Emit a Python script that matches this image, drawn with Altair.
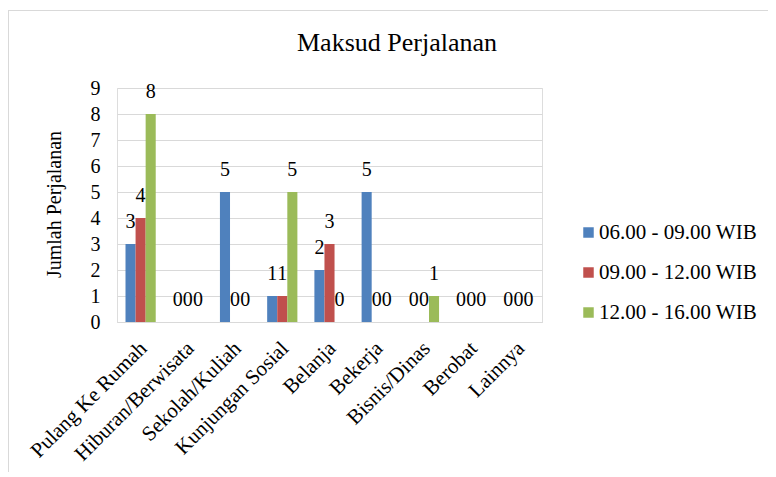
import altair as alt
import pandas as pd

categories = ["Pulang Ke Rumah", "Hiburan/Berwisata", "Sekolah/Kuliah", "Kunjungan Sosial",
              "Belanja", "Bekerja", "Bisnis/Dinas", "Berobat", "Lainnya"]
series = ["06.00 - 09.00 WIB", "09.00 - 12.00 WIB", "12.00 - 16.00 WIB"]
pagi = [3, 0, 5, 1, 2, 5, 0, 0, 0]
siang = [4, 0, 0, 1, 3, 0, 0, 0, 0]
sore = [8, 0, 0, 5, 0, 0, 1, 0, 0]
colors = ["#4F81BD", "#C0504D", "#9BBB59"]
y_ticks = list(range(10))
chart_title = ["Maksud Perjalanan"]

rows = []
for s, vals in zip(series, [pagi, siang, sore]):
    for c, v in zip(categories, vals):
        rows.append({"Maksud": c, "Waktu": s, "Jumlah": v})
df = pd.DataFrame(rows)

FONT = "Liberation Serif"
GRID = "#d9d9d9"

x = alt.X("Maksud:N", sort=categories,
          scale=alt.Scale(paddingInner=0.36, paddingOuter=0.18),
          axis=alt.Axis(title=None, labelAngle=-45, labelAlign="right", labelBaseline="middle",
                        labelFontSize=21, labelFont=FONT, labelColor="#000", labelPadding=23,
                        labelOffset=3,
                        ticks=False, domainColor=GRID, domainWidth=1, grid=False, labelLimit=300))
xo = alt.XOffset("Waktu:N", sort=series, scale=alt.Scale(paddingInner=0, paddingOuter=0))
y = alt.Y("Jumlah:Q", scale=alt.Scale(domain=[0, 9], nice=False),
          axis=alt.Axis(values=y_ticks, title="Jumlah Perjalanan", titleFont=FONT, titleFontSize=20,
                        titleFontWeight="normal", titleColor="#000", titleX=-63, titleY=116,
                        titleAngle=-90, titleBaseline="middle", titleAlign="center",
                        labelFont=FONT, labelFontSize=20, labelColor="#000", labelPadding=17,
                        ticks=False, domain=False, gridColor=GRID, gridWidth=1))
color = alt.Color("Waktu:N", sort=series, scale=alt.Scale(domain=series, range=colors),
                  legend=alt.Legend(title=None, orient="none", legendX=461, legendY=134,
                                    symbolType="square", symbolSize=110, symbolStrokeWidth=0,
                                    labelFont=FONT, labelFontSize=21, labelColor="#000",
                                    rowPadding=18, labelOffset=0, labelLimit=300))

base = alt.Chart(df)
bars = base.mark_bar().encode(x=x, xOffset=xo, y=y, color=color)
labels = base.mark_text(dy=-22, baseline="middle", font=FONT, fontSize=20, color="#000").encode(
    x=x, xOffset=xo, y=y, text="Jumlah:Q")

title_df = pd.DataFrame({"t": chart_title})
title_mark = alt.Chart(title_df).mark_text(font=FONT, fontSize=26, color="#000", align="center",
                                           baseline="alphabetic").encode(
    x=alt.value(280), y=alt.value(-37), text="t:N")

frame_df = pd.DataFrame({"k": [0]})
frame_left = alt.Chart(frame_df).mark_rule(color=GRID, strokeWidth=1).encode(
    x=alt.value(-108.5), y=alt.value(-78), y2=alt.value(700))
frame_top = alt.Chart(frame_df).mark_rule(color=GRID, strokeWidth=1).encode(
    x=alt.value(-108.5), x2=alt.value(900), y=alt.value(-77.5))

chart = alt.layer(frame_left, frame_top, bars, labels, title_mark).properties(
    width=425, height=234,
    autosize=alt.AutoSizeParams(type="none"),
    padding={"left": 109, "top": 80, "right": 226, "bottom": 150},
).configure_view(stroke=None).configure(background="white")

chart.save("out.html", embed_options={"renderer": "svg", "actions": False})
